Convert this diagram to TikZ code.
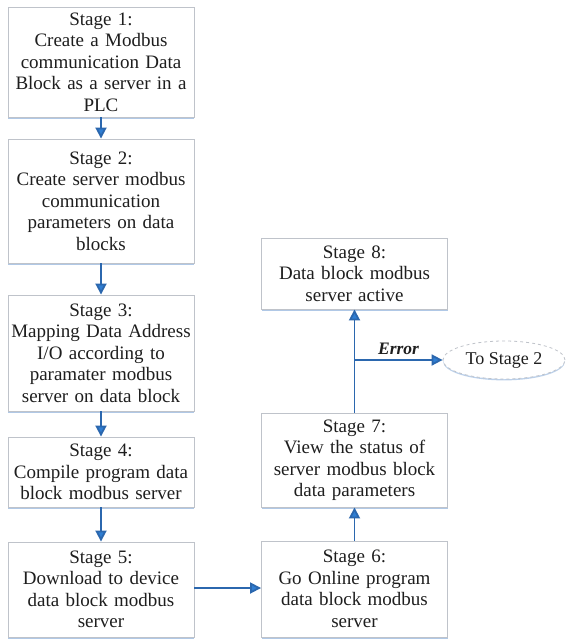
\documentclass[tikz,border=0pt]{standalone}
\usepackage{fontspec}
\setmainfont{Liberation Serif}
\usetikzlibrary{arrows.meta,shapes.geometric,shadows}
\definecolor{boxline}{HTML}{BFC3CA}
\definecolor{flow}{HTML}{2B67AE}
\definecolor{tipfill}{HTML}{2F7ED3}
\definecolor{shadowblue}{HTML}{8FB2DC}
\definecolor{ink}{HTML}{1E1E1E}
\tikzset{
  stagebox/.style={draw=boxline, line width=0.9pt, fill=white,
    minimum width=186pt, text width=182pt, align=center, inner sep=2pt,
    text=ink, font=\fontsize{19}{21.5}\selectfont,
    drop shadow={shadow xshift=0pt, shadow yshift=-1.6pt, fill=shadowblue, opacity=0.7}},
  goal/.style={draw=boxline, dashed, line width=0.8pt, ellipse, fill=white,
    minimum width=122pt, minimum height=38pt, inner sep=0pt,
    text=ink, font=\fontsize{18}{21.5}\selectfont,
    drop shadow={shadow xshift=0pt, shadow yshift=-1.4pt, fill=shadowblue, opacity=0.6}},
  flowarrow/.style={draw=flow, line width=1.8pt,
    -{Triangle[length=11pt,width=11pt,fill=tipfill]}}
}
\begin{document}
\begin{tikzpicture}[x=1pt,y=1pt]
  \useasboundingbox (0,0) rectangle (566,-641);
  \fill[white] (0,0) rectangle (566,-641);

  % left column
  \node[stagebox, minimum height=110pt] (s1) at (101,-62)
    {Stage 1:\\Create a Modbus\\communication Data\\Block as a server in a\\PLC};
  \node[stagebox, minimum height=124pt] (s2) at (101,-201)
    {Stage 2:\\Create server modbus\\communication\\parameters on data\\blocks};
  \node[stagebox, minimum height=116pt] (s3) at (101,-353)
    {Stage 3:\\Mapping Data Address\\I/O according to\\paramater modbus\\server on data block};
  \node[stagebox, minimum height=70pt] (s4) at (101,-472)
    {Stage 4:\\Compile program data\\block modbus server};
  \node[stagebox, minimum height=95pt] (s5) at (101,-589.5)
    {Stage 5:\\Download to device\\data block modbus\\server};

  % right column
  \node[stagebox, minimum height=96pt] (s6) at (354.5,-589)
    {Stage 6:\\Go Online program\\data block modbus\\server};
  \node[stagebox, minimum height=94pt] (s7) at (354.5,-460)
    {Stage 7:\\View the status of\\server modbus block\\data parameters};
  \node[stagebox, minimum height=71pt] (s8) at (354.5,-273.5)
    {Stage 8:\\Data block modbus\\server active};

  \node[goal] (back) at (504,-360) {To Stage 2};

  % connectors
  \draw[flowarrow] (s1) -- (s2);
  \draw[flowarrow] (s2) -- (s3);
  \draw[flowarrow] (s3) -- (s4);
  \draw[flowarrow] (s4) -- (s5);
  \draw[flowarrow] (s5.east |- 0,-588) -- (s6.west |- 0,-588);
  \draw[flowarrow] (s6) -- (s7);
  \draw[flowarrow] (s7) -- (s8);
  \coordinate (fork) at (s8.south |- back.west);
  \draw[flowarrow] (fork) -- (back.west)
    node[midway, above=1pt, text=ink, font=\fontsize{17.5}{19}\selectfont\bfseries\itshape] {Error};
\end{tikzpicture}
\end{document}
